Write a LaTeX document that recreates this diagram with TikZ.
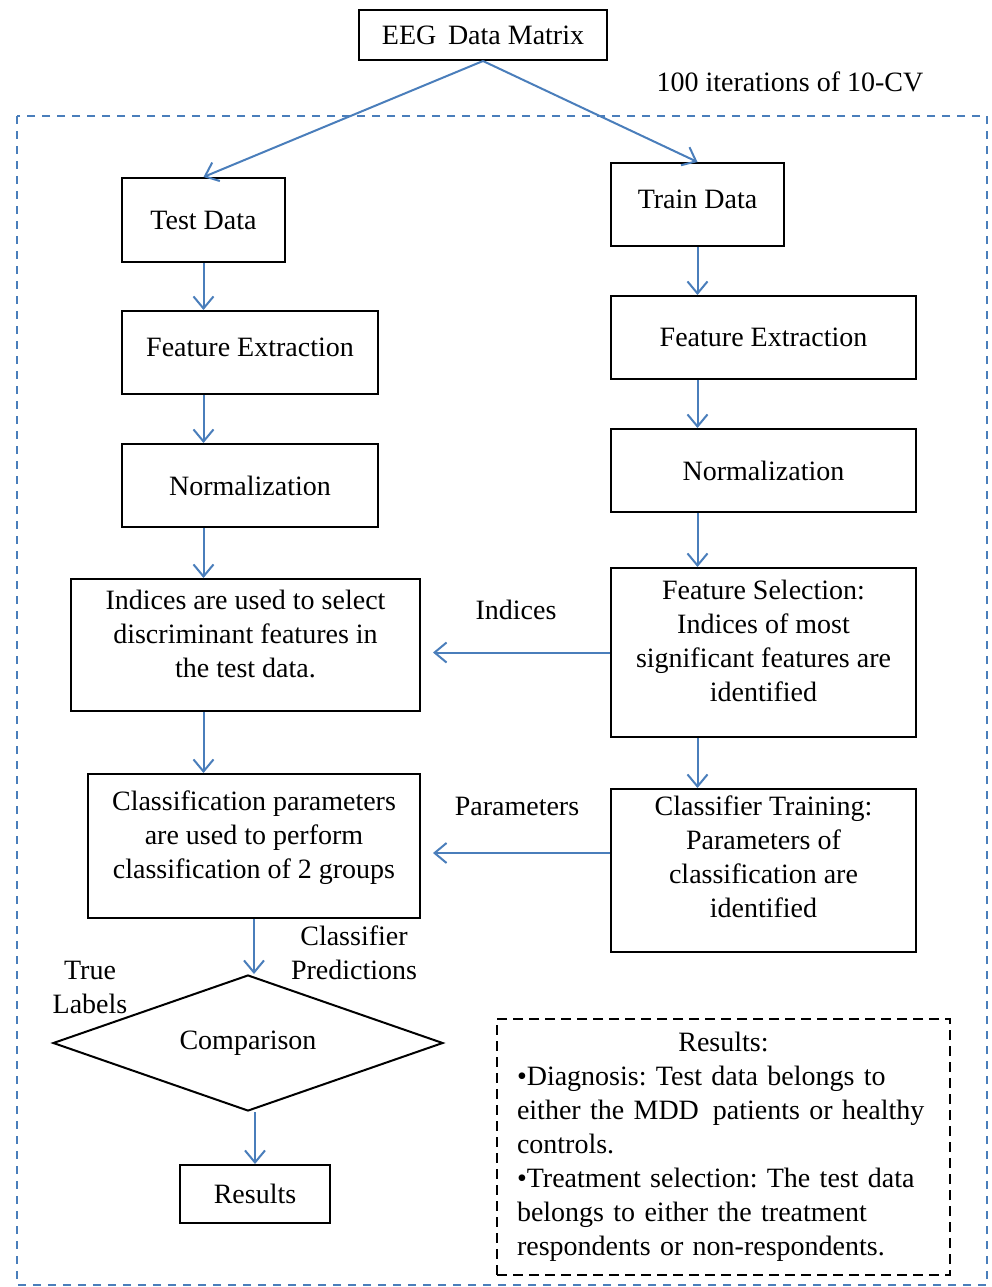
\documentclass[tikz,border=0pt]{standalone}
\usepackage{fontspec}
\setmainfont{Liberation Serif}
\frenchspacing
\usetikzlibrary{positioning,shapes.geometric,arrows.meta,calc}
\definecolor{flowblue}{HTML}{4A7EBB}
\tikzset{
  >={Straight Barb[length=6pt,width=10pt]},
  every node/.style={font=\fontsize{14}{17}\selectfont},
  % --- nodes
  box/.style   = {draw=black, line width=1pt, align=center, inner sep=3pt},
  decide/.style= {box, diamond, aspect=2.87, inner sep=0pt, minimum width=195pt, minimum height=68pt},
  note/.style  = {draw=black, line width=1pt, dash pattern=on 5pt off 3pt, align=left,
                  inner xsep=10pt, inner ysep=3pt, text width=206.5pt,
                  minimum width=226.5pt, minimum height=128pt},
  lbl/.style   = {align=center, inner sep=1pt},
  % --- edges
  flow/.style  = {->, draw=flowblue, line width=1pt},
  loop/.style  = {draw=flowblue, line width=1pt, dash pattern=on 4pt off 3.5pt},
}
\begin{document}
\begin{tikzpicture}[x=0.5pt,y=-0.5pt]
  \useasboundingbox (0,0) rectangle (992,1287);

  % outer cross-validation frame
  \draw[loop] (17,116) rectangle (987,1285);
  \node[lbl] (cv) at (790,82) {100 iterations of 10-CV};

  % source
  \node[box, minimum width=124pt, minimum height=25pt] (eeg) at (483,35) {EEG\, Data Matrix};

  % test branch
  \node[box, minimum width=81.5pt, minimum height=42pt] (test) at (203.5,220) {Test Data};
  \node[box, minimum width=128pt, minimum height=41.5pt, text depth=5pt] (fel) at (250,352.5) {Feature Extraction};
  \node[box, minimum width=128pt, minimum height=41.5pt] (norml) at (250,485.5) {Normalization};
  \node[box, minimum width=174.5pt, minimum height=66pt, text depth=11pt] (idx) at (245.5,645)
        {Indices are used to select\\discriminant features in\\the test data.};
  \node[box, minimum width=166pt, minimum height=72pt, text depth=11pt] (cpar) at (254,846)
        {Classification parameters\\are used to perform\\classification of 2 groups};
  \node[decide] (cmp) at (248,1043) {Comparison};
  \node[box, minimum width=75pt, minimum height=29pt] (res) at (255,1194) {Results};

  % train branch
  \node[box, minimum width=86.5pt, minimum height=41.5pt, text depth=5pt] (train) at (697.5,204.5) {Train Data};
  \node[box, minimum width=152.5pt, minimum height=41.5pt] (fer) at (763.5,337.5) {Feature Extraction};
  \node[box, minimum width=152.5pt, minimum height=41.5pt] (normr) at (763.5,470.5) {Normalization};
  \node[box, minimum width=152.5pt, minimum height=84.5pt, text depth=12pt] (fsel) at (763.5,652.5)
        {Feature Selection:\\Indices of most\\significant features are\\identified};
  \node[box, minimum width=152.5pt, minimum height=81.5pt, text depth=14pt] (ctrain) at (763.5,870.5)
        {Classifier Training:\\Parameters of\\classification are\\identified};

  % results note
  \node[note] (outcome) at (723.5,1147)
        {\makebox[\linewidth]{Results:}\\
         \textbullet Diagnosis: Test data belongs to\\
         either the MDD\, patients or healthy\\
         controls.\\
         \textbullet Treatment selection: The test data\\
         belongs to either the treatment\\
         respondents or non-respondents.};

  % labels
  \node[lbl] (lidx) at (516,610) {Indices};
  \node[lbl] (lpar) at (517,806) {Parameters};
  \node[lbl] (lpred) at (354,953) {Classifier\\Predictions};
  \node[lbl] (ltrue) at (90,987) {True\\Labels};

  % split
  \draw[flow] (eeg.south) -- (test.north);
  \draw[flow] (eeg.south) -- (train.north);

  % left column
  \draw[flow] (test.south) -- (test.south |- fel.north);
  \draw[flow] (test.south |- fel.south) -- (test.south |- norml.north);
  \draw[flow] (test.south |- norml.south) -- (test.south |- idx.north);
  \draw[flow] (test.south |- idx.south) -- (test.south |- cpar.north);
  \draw[flow] (cpar.south) -- (cpar.south |- cmp.north);
  \draw[flow] (res.north |- cmp.south) -- (res.north);

  % right column
  \draw[flow] (train.south) -- (train.south |- fer.north);
  \draw[flow] (train.south |- fer.south) -- (train.south |- normr.north);
  \draw[flow] (train.south |- normr.south) -- (train.south |- fsel.north);
  \draw[flow] (train.south |- fsel.south) -- (train.south |- ctrain.north);

  % across
  \draw[flow, shorten >=6pt] (fsel.west) -- (fsel.west -| idx.east);
  \draw[flow, shorten >=6pt] ([yshift=-3.5pt]ctrain.west |- cpar.east) -- ([yshift=-3.5pt]cpar.east);
\end{tikzpicture}
\end{document}
